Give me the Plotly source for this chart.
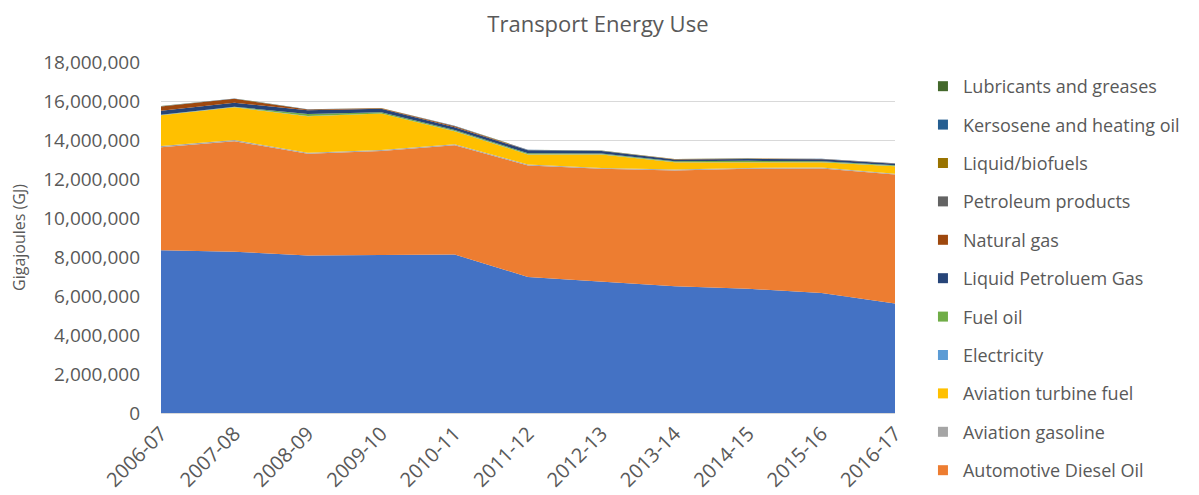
import plotly.graph_objects as go

years = ["2006-07", "2007-08", "2008-09", "2009-10", "2010-11", "2011-12",
         "2012-13", "2013-14", "2014-15", "2015-16", "2016-17"]

automotive_gasoline = [8350000, 8270000, 8080000, 8090000, 8130000, 6980000,
                       6740000, 6500000, 6370000, 6160000, 5620000]
automotive_diesel = [5280000, 5670000, 5210000, 5340000, 5600000, 5710000,
                     5780000, 5940000, 6150000, 6380000, 6610000]
aviation_gasoline = [60000, 60000, 60000, 55000, 50000, 50000,
                     50000, 50000, 50000, 50000, 40000]
aviation_turbine = [1580000, 1680000, 1870000, 1870000, 670000, 520000,
                    690000, 370000, 290000, 270000, 390000]
electricity = [10000, 10000, 10000, 10000, 10000, 10000,
               10000, 10000, 10000, 10000, 10000]
fuel_oil = [20000, 20000, 100000, 60000, 50000, 50000,
            40000, 40000, 60000, 40000, 30000]
lpg = [200000, 200000, 200000, 180000, 150000, 150000,
       120000, 90000, 100000, 100000, 80000]
natural_gas = [220000, 200000, 30000, 20000, 50000, 10000,
               10000, 10000, 10000, 10000, 10000]
petroleum_products = [5000, 5000, 5000, 5000, 5000, 5000,
                      5000, 5000, 5000, 5000, 5000]
liquid_biofuels = [5000, 5000, 5000, 5000, 5000, 5000,
                   5000, 5000, 5000, 5000, 5000]
kerosene = [5000, 5000, 5000, 5000, 5000, 5000,
            5000, 5000, 5000, 5000, 5000]
lubricants = [5000, 5000, 5000, 5000, 5000, 5000,
              5000, 5000, 5000, 5000, 5000]

series = [
    ("Automotive gasoline", automotive_gasoline, "#4472C4", False),
    ("Automotive Diesel Oil", automotive_diesel, "#ED7D31", True),
    ("Aviation gasoline", aviation_gasoline, "#A5A5A5", True),
    ("Aviation turbine fuel", aviation_turbine, "#FFC000", True),
    ("Electricity", electricity, "#5B9BD5", True),
    ("Fuel oil", fuel_oil, "#70AD47", True),
    ("Liquid Petroluem Gas", lpg, "#264478", True),
    ("Natural gas", natural_gas, "#9E480E", True),
    ("Petroleum products", petroleum_products, "#636363", True),
    ("Liquid/biofuels", liquid_biofuels, "#997300", True),
    ("Kersosene and heating oil", kerosene, "#255E91", True),
    ("Lubricants and greases", lubricants, "#43682B", True),
]

fig = go.Figure()
for name, vals, color, show in series:
    fig.add_trace(go.Scatter(
        x=years, y=vals, name=name, mode="lines",
        stackgroup="one", line=dict(width=0, color=color),
        fillcolor=color, showlegend=False,
        hovertemplate="%{y:,}<extra>" + name + "</extra>",
    ))

# legend entries with square swatches (Excel style), top of stack first
for i, (name, vals, color, show) in enumerate(reversed(series)):
    if not show:
        continue
    fig.add_trace(go.Scatter(
        x=[None], y=[None], name=name, mode="markers",
        marker=dict(symbol="square", size=10, color=color),
        showlegend=True, legendgroup=f"g{i}", hoverinfo="skip",
    ))

font_family = "Open Sans, Noto Sans, sans-serif"
text_color = "#595959"

# the page body adds an 8px offset; margins compensate for it
fig.update_layout(
    width=1199, height=495,
    margin=dict(l=153, r=312, t=54, b=90, autoexpand=False),
    paper_bgcolor="white", plot_bgcolor="white",
    font=dict(family=font_family, color=text_color, size=16),
    title=dict(text="Transport Energy Use", x=0.492, xanchor="center",
               y=0.968, yanchor="middle",
               font=dict(size=22, color=text_color)),
    legend=dict(
        xref="container", yref="container",
        x=0.7631, xanchor="left", y=0.8788, yanchor="top",
        traceorder="grouped", tracegroupgap=12,
        font=dict(size=18, color=text_color),
        itemwidth=30, maxheight=495,
    ),
    showlegend=True,
)

fig.update_xaxes(
    type="category", categoryorder="array", categoryarray=years,
    range=[0, 10], tickangle=-45, showgrid=False,
    showline=True, linecolor="#D9D9D9",
    tickfont=dict(size=20, color=text_color),
    ticks="", automargin=False,
)
fig.update_yaxes(
    range=[0, 18000000], dtick=2000000, tickformat=",",
    showgrid=True, gridcolor="#D9D9D9", gridwidth=1,
    zeroline=False, ticklabelstandoff=20, automargin=False,
    tickfont=dict(size=19, color=text_color),
    title=dict(text="Gigajoules (GJ)", font=dict(size=16, color=text_color),
               standoff=16),
)

fig.write_html("out.html")
